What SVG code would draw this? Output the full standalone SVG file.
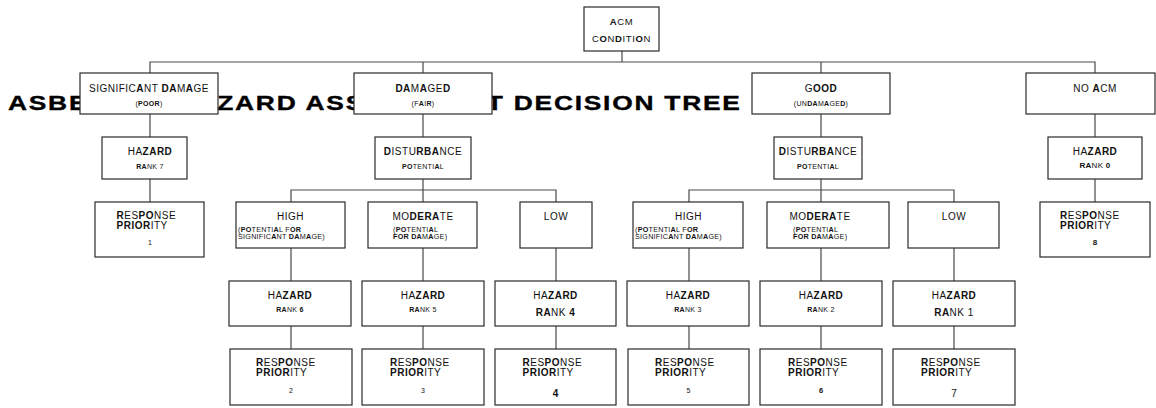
<svg xmlns="http://www.w3.org/2000/svg" width="1156" height="408" viewBox="0 0 1156 408">
<style>
.bx{fill:#fff;stroke:#2a2a2a;stroke-width:1.2}
.cn{fill:none;stroke:#4a4a4a;stroke-width:1.2}
text{font-family:"Liberation Sans",Arial,sans-serif;fill:#111}
.k{font-weight:bold}
.c{text-anchor:middle}
.m{font-size:10px;letter-spacing:0.5px}
.s{font-size:7px;letter-spacing:0.3px}
.p{font-size:7.2px;letter-spacing:0.25px}
.r{font-size:10px;letter-spacing:0.5px}
.big{font-size:10px}
.title{font-size:20px;font-weight:bold;fill:#000;stroke:#000;stroke-width:0.35}
</style>
<rect width="1156" height="408" fill="#fff"/>
<text class="title" transform="scale(1.32,1)" x="6.06" y="110" textLength="554.5" lengthAdjust="spacing">ASBESTOS HAZARD ASSESSMENT DECISION TREE</text>

<g id="connectors">
<path class="cn" d="M150,73V62H1095V73M622,51V62M423,62V73M821,62V73
M150,114V137M150,179V202
M423,114V137M423,179V202M291,202V190H556V202
M821,114V137M821,179V202M689,202V190H954V202
M1095,114V137M1095,179V202
M291,248V281M291,326V349M423,248V281M423,326V349M556,248V281M556,326V349
M689,248V281M689,326V349M821,248V281M821,326V349M954,248V281M954,326V349"/>
</g>

<g id="acm">
<rect class="bx" x="584" y="7" width="75" height="44"/>
<text class="c" x="621.5" y="25" style="font-size:9.5px;letter-spacing:0.6px"><tspan class="k">A</tspan>CM</text>
<text class="c" x="621.5" y="42" style="font-size:9.5px;letter-spacing:0.6px">C<tspan class="k">O</tspan>N<tspan class="k">D</tspan>ITI<tspan class="k">O</tspan>N</text>
</g>

<g id="sigdamage">
<rect class="bx" x="80" y="73" width="138" height="41"/>
<text class="c m" x="149" y="92">SIGNIFIC<tspan class="k">A</tspan>NT <tspan class="k">DA</tspan>M<tspan class="k">A</tspan>GE</text>
<text class="c s" x="149" y="106">(<tspan class="k">POOR</tspan>)</text>
</g>

<g id="damaged">
<rect class="bx" x="354" y="73" width="138" height="41"/>
<text class="c m" x="423" y="92"><tspan class="k">DA</tspan>M<tspan class="k">A</tspan>GE<tspan class="k">D</tspan></text>
<text class="c s" x="423" y="106">(F<tspan class="k">A</tspan>I<tspan class="k">R</tspan>)</text>
</g>

<g id="good">
<rect class="bx" x="752" y="73" width="138" height="41"/>
<text class="c m" x="821" y="92">G<tspan class="k">OOD</tspan></text>
<text class="c s" x="821" y="106">(UN<tspan class="k">DA</tspan>M<tspan class="k">A</tspan>GE<tspan class="k">D</tspan>)</text>
</g>

<g id="noacm">
<rect class="bx" x="1026" y="73" width="129" height="41"/>
<text class="c m" x="1095" y="92">NO <tspan class="k">A</tspan>CM</text>
</g>

<g id="hazard7">
<rect class="bx" x="102" y="137" width="85" height="42"/>
<text class="c m" x="150" y="155">HA<tspan class="k">ZARD</tspan></text>
<text class="c s" x="150" y="168.5"><tspan class="k">RA</tspan>NK 7</text>
</g>

<g id="resp1">
<rect class="bx" x="95" y="202" width="109" height="55"/>
<text class="r" x="116.5" y="218.5"><tspan class="k">R</tspan>ES<tspan class="k">PO</tspan>NSE</text>
<text class="r" x="116.5" y="228.5"><tspan class="k">PRIOR</tspan>ITY</text>
<text class="c s" x="150" y="245">1</text>
</g>

<g id="dist-left">
<rect class="bx" x="375" y="137" width="96" height="42"/>
<text class="c m" x="423" y="155"><tspan class="k">D</tspan>ISTU<tspan class="k">RBA</tspan>NCE</text>
<text class="c s" x="423" y="168.5"><tspan class="k">PO</tspan>TENTI<tspan class="k">A</tspan>L</text>
</g>

<g id="dist-right">
<rect class="bx" x="774" y="137" width="88" height="42"/>
<text class="c m" x="818" y="155"><tspan class="k">D</tspan>ISTU<tspan class="k">RBA</tspan>NCE</text>
<text class="c s" x="818" y="168.5"><tspan class="k">PO</tspan>TENTI<tspan class="k">A</tspan>L</text>
</g>

<g id="hazard0">
<rect class="bx" x="1048" y="137" width="94" height="42"/>
<text class="c m" x="1095" y="155">HA<tspan class="k">ZARD</tspan></text>
<text class="c" x="1095" y="168" style="font-size:8px;letter-spacing:0.3px"><tspan class="k">RA</tspan>NK <tspan class="k">0</tspan></text>
</g>

<g id="resp8">
<rect class="bx" x="1040" y="202" width="110" height="55"/>
<text class="r" x="1060" y="218.5"><tspan class="k">R</tspan>ES<tspan class="k">PO</tspan>NSE</text>
<text class="r" x="1060" y="228.5"><tspan class="k">PRIOR</tspan>ITY</text>
<text class="c k" x="1095" y="244.5" style="font-size:8px">8</text>
</g>

<g id="high-left">
<rect class="bx" x="236" y="202" width="109" height="46"/>
<text class="c m" x="290.5" y="220">HIGH</text>
<text class="p" x="238" y="231.5">(<tspan class="k">PO</tspan>TENTI<tspan class="k">A</tspan>L F<tspan class="k">OR</tspan></text>
<text class="p" x="238" y="239">SIGNIFIC<tspan class="k">A</tspan>NT <tspan class="k">DA</tspan>M<tspan class="k">A</tspan>GE)</text>
</g>

<g id="mod-left">
<rect class="bx" x="368" y="202" width="109" height="46"/>
<text class="c m" x="423" y="220">MO<tspan class="k">DERA</tspan>TE</text>
<text class="p" x="393" y="231.5">(<tspan class="k">PO</tspan>TENTI<tspan class="k">A</tspan>L</text>
<text class="p" x="393" y="239"><tspan class="k">FOR</tspan> <tspan class="k">DA</tspan>M<tspan class="k">A</tspan>GE)</text>
</g>

<g id="low-left">
<rect class="bx" x="520" y="202" width="72" height="46"/>
<text class="c m" x="556" y="220">LOW</text>
</g>

<g id="high-right">
<rect class="bx" x="633" y="202" width="110" height="46"/>
<text class="c m" x="688.5" y="220">HIGH</text>
<text class="p" x="635" y="231.5">(<tspan class="k">PO</tspan>TENTI<tspan class="k">A</tspan>L F<tspan class="k">OR</tspan></text>
<text class="p" x="635" y="239">SIGNIFIC<tspan class="k">A</tspan>NT <tspan class="k">DA</tspan>M<tspan class="k">A</tspan>GE)</text>
</g>

<g id="mod-right">
<rect class="bx" x="767" y="202" width="122" height="46"/>
<text class="c m" x="820" y="220">MO<tspan class="k">DERA</tspan>TE</text>
<text class="p" x="793" y="231.5">(<tspan class="k">PO</tspan>TENTI<tspan class="k">A</tspan>L</text>
<text class="p" x="793" y="239"><tspan class="k">FOR</tspan> <tspan class="k">DA</tspan>M<tspan class="k">A</tspan>GE)</text>
</g>

<g id="low-right">
<rect class="bx" x="908" y="202" width="91" height="46"/>
<text class="c m" x="954" y="220">LOW</text>
</g>

<g id="hazard6">
<rect class="bx" x="229" y="281" width="122" height="45"/>
<text class="c m" x="290" y="298.5">HA<tspan class="k">ZARD</tspan></text>
<text class="c s" x="290" y="311.5"><tspan class="k">RA</tspan>NK <tspan class="k">6</tspan></text>
</g>
<g id="hazard5">
<rect class="bx" x="362" y="281" width="122" height="45"/>
<text class="c m" x="423" y="298.5">HA<tspan class="k">ZARD</tspan></text>
<text class="c s" x="423" y="311.5"><tspan class="k">RA</tspan>NK 5</text>
</g>
<g id="hazard4">
<rect class="bx" x="495" y="281" width="121" height="45"/>
<text class="c m" x="555.5" y="298.5">HA<tspan class="k">ZARD</tspan></text>
<text class="c m" x="555.5" y="315.5"><tspan class="k">RA</tspan>NK <tspan class="k">4</tspan></text>
</g>
<g id="hazard3">
<rect class="bx" x="627" y="281" width="122" height="45"/>
<text class="c m" x="688" y="298.5">HA<tspan class="k">ZARD</tspan></text>
<text class="c s" x="688" y="311.5"><tspan class="k">RA</tspan>NK 3</text>
</g>
<g id="hazard2">
<rect class="bx" x="760" y="281" width="122" height="45"/>
<text class="c m" x="821" y="298.5">HA<tspan class="k">ZARD</tspan></text>
<text class="c s" x="821" y="311.5"><tspan class="k">RA</tspan>NK 2</text>
</g>
<g id="hazard1">
<rect class="bx" x="893" y="281" width="122" height="45"/>
<text class="c m" x="954" y="298.5">HA<tspan class="k">ZARD</tspan></text>
<text class="c m" x="954" y="315.5"><tspan class="k">RA</tspan>NK 1</text>
</g>

<g id="resp2">
<rect class="bx" x="230" y="349" width="122" height="56"/>
<text class="r" x="256" y="366"><tspan class="k">R</tspan>ES<tspan class="k">PO</tspan>NSE</text>
<text class="r" x="256" y="376"><tspan class="k">PRIOR</tspan>ITY</text>
<text class="c s" x="291" y="393">2</text>
</g>
<g id="resp3">
<rect class="bx" x="362" y="349" width="122" height="56"/>
<text class="r" x="390" y="366"><tspan class="k">R</tspan>ES<tspan class="k">PO</tspan>NSE</text>
<text class="r" x="390" y="376"><tspan class="k">PRIOR</tspan>ITY</text>
<text class="c s" x="423" y="393">3</text>
</g>
<g id="resp4">
<rect class="bx" x="495" y="349" width="121" height="56"/>
<text class="r" x="522.5" y="366"><tspan class="k">R</tspan>ES<tspan class="k">PO</tspan>NSE</text>
<text class="r" x="522.5" y="376"><tspan class="k">PRIOR</tspan>ITY</text>
<text class="c k big" x="555.5" y="396.5">4</text>
</g>
<g id="resp5">
<rect class="bx" x="628" y="349" width="121" height="56"/>
<text class="r" x="655" y="366"><tspan class="k">R</tspan>ES<tspan class="k">PO</tspan>NSE</text>
<text class="r" x="655" y="376"><tspan class="k">PRIOR</tspan>ITY</text>
<text class="c s" x="688.5" y="393">5</text>
</g>
<g id="resp6">
<rect class="bx" x="760" y="349" width="122" height="56"/>
<text class="r" x="788" y="366"><tspan class="k">R</tspan>ES<tspan class="k">PO</tspan>NSE</text>
<text class="r" x="788" y="376"><tspan class="k">PRIOR</tspan>ITY</text>
<text class="c k" x="821" y="393" style="font-size:7.5px">6</text>
</g>
<g id="resp7">
<rect class="bx" x="893" y="349" width="122" height="56"/>
<text class="r" x="921" y="366"><tspan class="k">R</tspan>ES<tspan class="k">PO</tspan>NSE</text>
<text class="r" x="921" y="376"><tspan class="k">PRIOR</tspan>ITY</text>
<text class="c big" x="954" y="396.5">7</text>
</g>
</svg>
